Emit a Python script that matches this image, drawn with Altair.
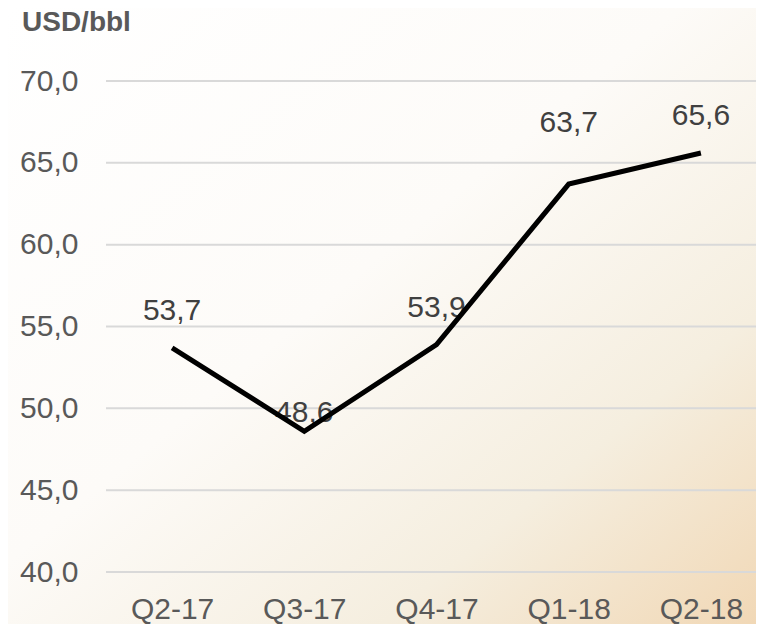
import altair as alt
import pandas as pd

quarters = ["Q2-17", "Q3-17", "Q4-17", "Q1-18", "Q2-18"]
prices = [53.7, 48.6, 53.9, 63.7, 65.6]
y_ticks = [40, 45, 50, 55, 60, 65, 70]
unit_title = ["USD/bbl"]

W, H = 650, 491

df = pd.DataFrame({"quarter": quarters, "price": prices})
df["label"] = [f"{v:.1f}".replace(".", ",") for v in prices]
grid_df = pd.DataFrame({"tick": y_ticks})
title_df = pd.DataFrame({"t": unit_title})

x_enc = alt.X("quarter:N", sort=quarters,
              scale=alt.Scale(range=[0, 661], paddingInner=0, paddingOuter=0),
              axis=alt.Axis(title=None, domain=False, ticks=False, labelAngle=0,
                            labelAlign="center", labelBaseline="middle",
                            labelPadding=37, labelFontSize=30, labelColor="#595959",
                            labelFont="Liberation Sans", grid=False, zindex=2))
y_scale = alt.Scale(domain=[40, 70], nice=False, zero=False)
y_enc = alt.Y("price:Q", scale=y_scale,
              axis=alt.Axis(title=None, domain=False, ticks=False, grid=False,
                            values=y_ticks, labelPadding=28, labelFontSize=30,
                            labelColor="#595959", labelFont="Liberation Sans", zindex=2,
                            labelExpr="replace(format(datum.value, '.1f'), '.', ',')"))

gradient = alt.Gradient(
    gradient="linear", x1=0, y1=0, x2=1, y2=1,
    stops=[alt.GradientStop(offset=0, color="#ffffff"),
           alt.GradientStop(offset=0.45, color="#fdfbf8"),
           alt.GradientStop(offset=0.75, color="#f5eedf"),
           alt.GradientStop(offset=1, color="#f1d8b6")])

bg = alt.Chart(grid_df).mark_rect(fill=gradient, clip=False).encode(
    x=alt.value(-98), x2=alt.value(W), y=alt.value(-73), y2=alt.value(H + 52))

grid = alt.Chart(grid_df).mark_rule(color="#d9d9d9", strokeWidth=2).encode(
    y=alt.Y("tick:Q", scale=y_scale),
    x=alt.value(0), x2=alt.value(W))

title = alt.Chart(title_df).mark_text(
    fontSize=28, fontWeight="bold", color="#595959", font="Liberation Sans",
    align="left", baseline="middle").encode(
    x=alt.value(-84), y=alt.value(-58), text="t:N")

base = alt.Chart(df)

def labels(sel, dy):
    return base.transform_filter(
        alt.FieldOneOfPredicate(field="quarter", oneOf=sel)
    ).mark_text(fontSize=30, font="Liberation Sans", color="#404040", dy=dy).encode(
        x=alt.X("quarter:N", sort=quarters), y=alt.Y("price:Q"), text="label:N")

line = base.mark_line(color="#000000", strokeWidth=5, strokeJoin="miter").encode(
    x=x_enc, y=y_enc)

chart = alt.layer(
    bg, grid, title,
    labels(["Q2-17", "Q4-17", "Q2-18"], -37),
    labels(["Q3-17"], -18),
    labels(["Q1-18"], -61),
    line,
).properties(
    width=W, height=H,
    autosize=alt.AutoSizeParams(type="none"),
    padding={"left": 98, "top": 73, "right": 0, "bottom": 52},
).configure_view(stroke=None).configure(background="#ffffff")

chart.save("out.html", embed_options={"renderer": "svg", "actions": False})
